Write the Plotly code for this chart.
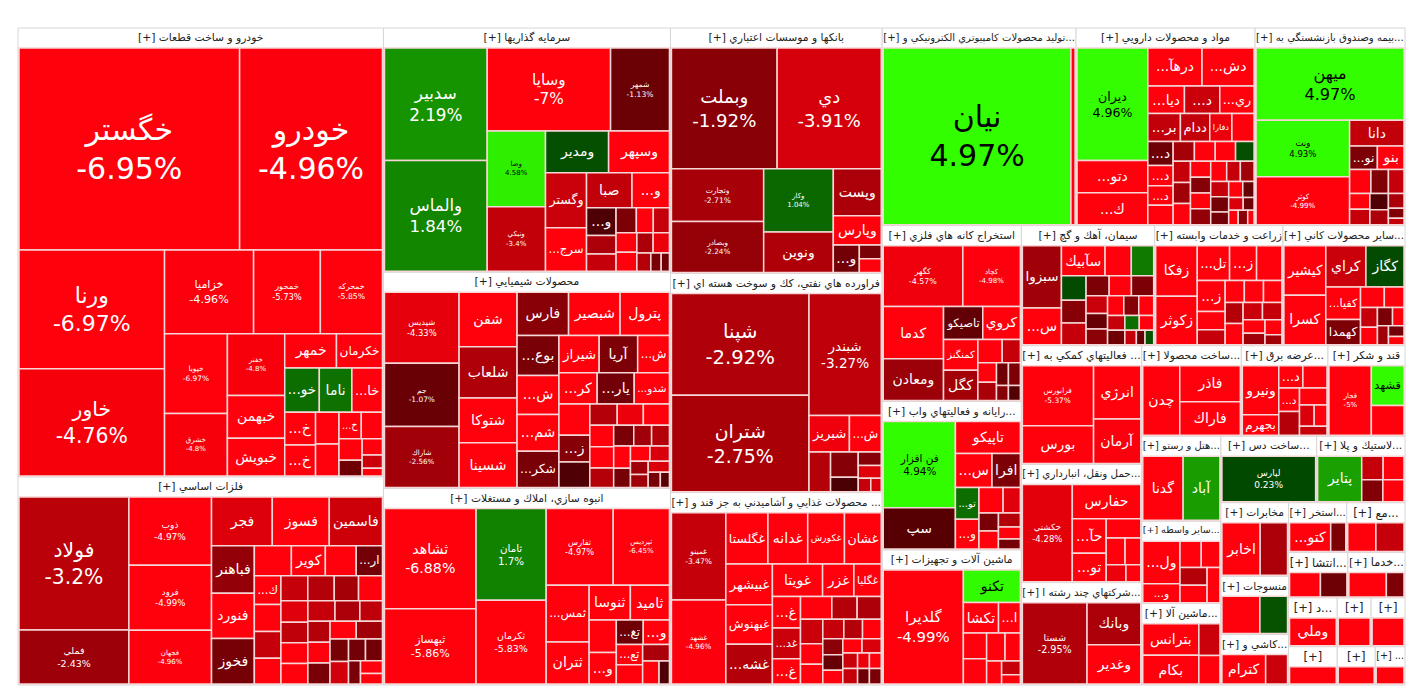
import math
import plotly.graph_objects as go

FONT = "Tahoma, 'DejaVu Sans', sans-serif"

# sector names as they appear in the header bars (truncated where the map truncates them)
SECTORS = [
    "خودرو و ساخت قطعات", "فلزات اساسي", "سرمايه گذاريها", "محصولات شيميايي",
    "انبوه سازي، املاك و مستغلات", "بانكها و موسسات اعتباري",
    "فراورده هاي نفتي، كك و سوخت هسته اي", "محصولات غذايي و آشاميدني به جز قند و ...",
    "توليد محصولات كامپيوتري الكترونيكي و...", "مواد و محصولات دارويي",
    "بيمه وصندوق بازنشستگي به...", "استخراج كانه هاي فلزي", "سيمان، آهك و گچ",
    "زراعت و خدمات وابسته", "ساير محصولات كاني...", "رايانه و فعاليتهاي واب...",
    "ماشين آلات و تجهيزات", "فعاليتهاي كمكي به ...", "ساخت محصولا...", "عرضه برق...",
    "قند و شكر", "حمل ونقل، انبارداري...", "شركتهاي چند رشته ا...", "ساخت دس...",
    "ساير واسطه...", "لاستيك و پلا...", "ماشين آلا...", "هتل و رستو...", "مخابرات",
    "منسوجات", "كاشي و...", "استخر...", "مع...", "خدما...", "انتشا...", "د...",
    "", "", "", "...", "",
]

# symbols per sector (tiles without a visible label are left out at the end)
SYMBOLS = [
    ["خگستر", "خودرو", "ورنا", "خاور", "خزامیا", "خمحور", "خمحرکه", "خپویا", "خشرق", "خفنر",
     "خبهمن", "خبويش", "خمهر", "خكرمان", "...خو", "ناما", "...خا", "...خ", "...خ", "", "", "...خ"],
    ["فولاد", "فملي", "ذوب", "فرود", "فجهان", "فجر", "فسوز", "فاسمين", "فباهنر", "فنورد",
     "فخوز", "", "كوير", "", "...ار", "...ك"],
    ["سدبير", "والماس", "وسايا", "شمهر", "وصا", "ونيكي", "ومدير", "وسپهر", "وگستر", "...سرج",
     "صبا", "...و", "...و"],
    ["شپديس", "جم", "شاراك", "شفن", "شلعاب", "شتوكا", "شسينا", "فارس", "شبصير", "پترول",
     "...بوع", "...ش", "...شم", "شيراز", "...شكر", "آريا", "...ش", "...كر", "...يار", "...شدو",
     "", "...ز"],
    ["ثشاهد", "ثبهساز", "ثامان", "ثكرمان", "ثفارس", "ثپرديس", "...ثمس", "ثتران", "ثنوسا", "ثاميد",
     "", "...و", "...تغ", "...و", "...تع"],
    ["وبملت", "دي", "وتجارت", "وبصادر", "وكار", "ونوين", "وپست", "وپارس", "...و"],
    ["شپنا", "شتران", "شبندر", "شبريز", "...ش"],
    ["غمينو", "غشهد", "غگلستا", "غدانه", "غكورش", "غشان", "غبيشهر", "غبهنوش", "...غشه", "غويتا",
     "غزر", "غگليا", "...غ", "...غد", "...غ"],
    ["نيان"],
    ["ديران", "...دتو", "...ك", "...درهآ", "...دش", "...ديا", "...د", "...ري", "...بر", "ددام",
     "دفارا", "", "...د", "...د", "...د"],
    ["ميهن", "ونت", "كوثر", "دانا", "...نو", "بنو"],
    ["كگهر", "كچاد", "كدما", "ومعادن", "تاصيكو", "كروي", "كمنگنز", "كگل"],
    ["سبزوا", "...س", "سآبيك"],
    ["زفكا", "زكوثر", "...تل", "...ز", "...ز"],
    ["كيشير", "كسرا", "كراي", "كگاز", "...كفيا", "كهمدا"],
    ["فن افزار", "سپ", "تاپيكو", "...س", "افرا", "...تو", "...و"],
    ["گلديرا", "تكنو", "تكشا", "", "...ا"],
    ["فرابورس", "بورس", "انرژي", "آرمان"],
    ["چدن", "فاذر", "فاراك"],
    ["ونيرو", "بجهرم", "...د", "", "...د"],
    ["قجار", "قشهد"],
    ["حكشتي", "حفارس", "...حآ", "...تو"],
    ["شستا", "وبانك", "وغدير"],
    ["لپارس"],
    ["...ول", "...و"],
    ["پتاير"],
    ["بترانس", "بكام"],
    ["گدنا", "آباد"],
    ["اخابر"],
    [],
    ["كترام"],
    ["...كتو"],
    [], [], [],
    ["وملي"],
    [], [], [], [], [],
]

# relative size of each tile (market value, arbitrary units)
VALUES = [
    [454, 294, 176, 159, 76, 57, 53, 51, 40, 36, 25, 22, 18, 16, 15.6, 14.7, 13.8, 10.3, 9.7, 7.6,
     7.6, 6.0, 5.7, 5.1, 3.7, 3.4, 2.7, 1.6],
    [158, 64, 61, 58, 48, 32, 30, 28, 22, 21, 21, 12, 11, 10, 8.5, 8.3, 7.7, 7.4, 7.7, 7.2,
     6.6, 6.0, 7.3, 6.0, 6.0, 4.5, 6.2, 5.0, 4.0, 4.0, 3.0, 5.0, 3.0, 2.5, 6.5, 6.0, 5.5, 5.0,
     5.0, 4.5, 5.0, 5.0],
    [123, 121, 109, 52, 47, 40, 28, 27, 24, 19, 17, 14, 8.7, 5.4, 5.4, 5.8, 4.3, 4.3, 4.5, 3.5,
     3.5, 4.2, 2.7, 2.0, 1.6],
    [57, 51, 49, 34, 32, 28, 28, 24, 24, 23, 18, 17.6, 16.6, 16.2, 16.4, 15.5, 12.8, 12.8, 12.4,
     11.8, 10.4, 8.9, 8.5, 6.3, 6.0, 5.5, 5.5, 4.5, 4.0, 4.0, 3.2, 3.2, 2.5, 2.5, 2.0, 1.5,
     6.0, 5.0, 4.0, 3.5, 2.5],
    [100, 75, 70, 64, 56, 47, 26.5, 19.7, 15.6, 14.8, 9.6, 9.3, 7.2, 7.0, 5.8, 5.5, 4.8, 4.1, 2.6],
    [136, 134, 52, 50, 47, 30, 24, 15, 7.6, 3.2, 3.2],
    [151, 143, 95, 16, 12.6, 9.2, 7.5, 4.3, 3.3, 3.2, 1.8, 1.5],
    [52, 50, 23.7, 22.4, 20.7, 20.7, 20.7, 20.2, 20.2, 17.8, 11.1, 9.7, 9.7, 9.4, 7.8, 7.8, 6.3,
     6.0, 6.0, 4.8, 4.0, 3.4, 2.5, 2.0, 2.0, 3.0, 2.5, 2.0, 5.0, 4.5, 4.0, 3.5, 3.0, 3.0, 2.0],
    [362, 8],
    [87, 25, 24.6, 22.5, 21.6, 11, 10.6, 10.3, 10, 9, 6.8, 6.8, 6.6, 5.6, 5.4, 5.4, 4.6, 4.4,
     4.0, 4.5, 4.0, 4.0, 3.5, 3.5, 3.5, 3.0, 3.0, 2.5, 2.5, 2.0, 2.0, 1.5, 1.5, 1.5, 1.0,
     4.0, 3.5, 3.5, 3.0, 3.0],
    [117, 58, 49, 15.3, 7.2, 6.9, 5.6, 4.6, 3.5, 4.1, 3.4, 3.3, 3.0, 2.5, 1.7, 1.1],
    [54, 39, 35, 28, 14.4, 13.8, 11.7, 11.6, 6.3, 4.7, 3.0, 3.8, 2.0, 2.0, 4.0, 3.0],
    [29, 17, 15.6, 9.4, 8.0, 7.2, 6.4, 6.6, 5.5, 5.3, 5.3, 4.5, 4.0, 4.0, 3.8, 3.5, 3.5, 3.0,
     3.0, 2.5, 2.5, 2.0, 1.5, 1.5],
    [25, 24, 13.4, 11.2, 10.3, 10.5, 4.5, 4.8, 6.0, 5.0, 5.0, 4.5, 4.0, 3.5, 3.0,
     5.0, 4.0, 3.0, 2.0],
    [24.7, 24.7, 19.7, 18.7, 13.5, 10.4, 5.8, 4.8, 4.0, 3.3, 2.5, 2.0, 1.5, 3.5, 2.5],
    [71, 34, 23.8, 14.2, 11, 8.5, 8, 7, 5, 4, 3, 4.0, 3.5, 2.5],
    [106, 21.5, 12.4, 7, 7.7, 6.8, 6, 5, 4, 3, 2],
    [51, 32, 30, 25],
    [33, 28, 26],
    [23, 9.6, 6.9, 6.9, 6.3, 6.3, 3.5, 3.2, 6, 4],
    [38, 16.8, 12.5],
    [58, 28, 14, 11.5, 8, 6, 5, 4, 3],
    [65, 28, 26],
    [61.5],
    [21, 9.4, 7.4, 6.3, 6, 6.4, 6.5],
    [29, 7.1, 7.3, 6.7, 6.7],
    [23.6, 21.6, 9, 8],
    [34, 31],
    [28, 20],
    [22, 16],
    [22, 11],
    [20.5, 7.5],
    [14, 14],
    [17, 8],
    [14, 12],
    [23],
    [16], [16], [18], [11], [14],
]

# daily change in percent
CHANGES = [
    [-6.95, -4.96, -6.97, -4.76, -4.96, -5.73, -5.85, -6.97, -4.8, -4.8, -5.1, -5.0, -5.2, -5.0,
     1.2, 1.3, -5.0, -5.0, -5.0, -5.0, -5.0, -5.0, -5.0, -5.0, -1.2, -5.0, -3.6, -5.0],
    [-3.2, -2.43, -4.97, -4.99, -4.96, -4.1, -5.0, -3.7, -2.2, -5.0, -1.4, -5.0, -5.0, -5.0,
     -1.3, -5.0, -5.0, -5.0, -3.5, -3.0, -2.6, -3.3, -3.5, -5.0, -5.0, -1.4, -4.2, -3.3, -1.3,
     -1.3, -1.5, -3.0, -5.0, -5.0, -5.0, -3.5, -2.8, -5.0, -1.5, -3.8, -5.0, -2.5],
    [2.19, 1.84, -7.0, -1.13, 4.58, -3.4, 0.4, -5.0, -3.6, -5.0, -3.4, -5.0, -0.4, -3.5, -1.6,
     -2.8, -3.5, -5.0, -5.0, -2.8, -4.5, -5.0, -3.0, -1.5, -1.2],
    [-4.33, -1.07, -2.56, -5.0, -2.9, -5.0, -5.0, -1.9, -5.0, -5.0, -1.5, -5.0, -5.0, -5.0, -1.5,
     -1.6, -5.0, -5.0, -1.3, -5.0, -5.0, -1.8, -0.4, -3.0, -4.5, -5.0, -5.0, -1.5, -2.5, -3.0,
     -5.0, -4.0, -2.5, -2.5, -1.5, -0.6, -5.0, -3.0, -5.0, -1.4, -4.0],
    [-6.88, -5.86, 1.7, -5.83, -4.97, -6.45, -5.0, -5.0, -5.0, -5.0, -5.0, -5.0, -1.2, -5.0,
     -5.0, -5.0, -2.8, -5.0, -0.4],
    [-1.92, -3.91, -2.71, -2.24, 1.04, -2.9, -2.8, -5.0, -1.3, -1.5, -5.0],
    [-2.92, -2.75, -3.27, -4.6, -5.0, -3.0, -1.8, -0.3, -1.8, -4.2, -3.5, -4.0],
    [-3.47, -4.96, -5.0, -5.0, -5.0, -5.0, -5.0, -5.0, -3.0, -5.0, -5.0, -5.0, -5.0, -3.6, -5.0,
     -5.0, -3.0, -2.8, -3.6, -5.0, -3.0, -1.0, -3.6, -4.5, -5.0, -5.0, -3.5, -1.2,
     -5.0, -3.5, -5.0, -2.0, -5.0, -4.0, -1.5],
    [4.97, -5.0],
    [4.96, -5.0, -5.0, -5.0, -5.0, -5.0, -3.6, -5.0, -3.4, -3.4, -4.5, -5.0, -1.2, -5.0, -5.0,
     -5.0, -2.6, -5.0, 0.4, -5.0, -3.5, -2.5, -5.0, -1.8, -5.0, -3.5, -2.5, -1.3, -5.0, -1.0,
     -4.0, -1.2, -5.0, -2.0, -5.0, -5.0, -2.2, -5.0, -3.5, -1.4],
    [4.97, 4.93, -4.99, -3.4, -1.6, -5.0, -5.0, -1.7, -5.0, -3.5, -3.5, -0.4, -2.8, -2.8, -1.7,
     -3.5],
    [-4.57, -4.98, -5.0, -2.4, -0.9, -5.0, -5.0, -2.6, -5.0, -3.5, -1.2, -2.8, -1.8, -0.5,
     -5.0, -1.6],
    [-2.5, -5.0, -5.0, -5.0, 1.5, 0.3, -3.5, -1.8, -1.6, -5.0, -1.6, -3.6, -1.0, -2.0, -5.0,
     -1.8, -5.0, -3.5, -1.2, 1.2, -5.0, -3.5, -1.0, 0.5],
    [-5.0, -5.0, -5.0, -5.0, -5.0, -5.0, -3.0, -5.0, -5.0, -3.5, -5.0, -5.0, -3.6, -5.0, -2.5,
     -5.0, -3.5, -5.0, -2.5],
    [-5.0, -5.0, -3.6, 0.3, -5.0, -1.6, -5.0, -5.0, -3.5, -1.5, -5.0, -1.3, -5.0, -5.0, -2.5],
    [4.94, -0.6, -5.0, -5.0, -1.6, 1.2, -5.0, -5.0, -4.2, -1.5, -5.0, -5.0, -3.0, -1.4],
    [-4.99, 4.9, -5.0, -5.0, -5.0, -5.0, -5.0, -5.0, -5.0, -3.5, -5.0],
    [-5.37, -5.0, -5.0, -4.9],
    [-5.0, -5.0, -5.0],
    [-5.0, -5.0, -5.0, -5.0, -5.0, -3.0, -5.0, -3.5, -5.0, -4.0],
    [-5.0, 4.9, -5.0],
    [-4.28, -5.0, -5.0, -5.0, -5.0, -5.0, -5.0, -4.5, -5.0],
    [-2.95, -2.8, -5.0],
    [0.23],
    [-5.0, -5.0, -5.0, -5.0, -5.0, -3.0, -5.0],
    [2.5, -5.0, -3.5, -1.7, -5.0],
    [-5.0, -5.0, -3.6, -5.0],
    [-5.0, 2.4],
    [-5.0, -2.8],
    [-5.0, 0.5],
    [-5.0, -3.6],
    [-5.0, -1.6],
    [-5.0, -3.5],
    [-5.0, -1.6],
    [-5.0, -1.2],
    [-5.0],
    [-5.0], [-5.0], [-5.0], [-5.0], [-5.0],
]


def tile_color(c):
    m = min(abs(c) / 5.0, 1.0)
    if c >= 0:
        g = 64 + m * 191
        return "rgb(%d,%d,0)" % (round(51 * m), round(g))
    r = 64 + m * 191
    return "rgb(%d,0,%d)" % (round(r), round(r * 0.05))


ids, labels, parents, values, colors, texts = [], [], [], [], [], []
font_colors, font_sizes, line_colors, line_widths = [], [], [], []

for i, name in enumerate(SECTORS):
    header = ("[+] " + name).strip()
    ids.append("s%d" % i)
    labels.append(header)
    parents.append("")
    values.append(0)
    colors.append("#ffffff")
    texts.append(header)
    font_colors.append("#222222")
    font_sizes.append(11.5)
    line_colors.append("#d6d6d6")
    line_widths.append(1)

for i in range(len(SECTORS)):
    syms, vals, chs = SYMBOLS[i], VALUES[i], CHANGES[i]
    for j, (v, c) in enumerate(zip(vals, chs)):
        sym = syms[j] if j < len(syms) else ""
        ids.append("s%d-%d" % (i, j))
        labels.append(sym or "s%d-%d" % (i, j))
        parents.append("s%d" % i)
        values.append(v)
        colors.append(tile_color(c))
        if sym and v >= 36:
            # name + change: font grows with the tile, small tiles get tiny text
            texts.append("%s<br>%s%%" % (sym, format(c, "g")))
            size = 7 + 0.25 * (math.sqrt(v * 90) - 66)
            font_sizes.append(max(7, min(30, size)))
        else:
            texts.append(sym)
            font_sizes.append(14)
        font_colors.append("#000000" if c > 3 else "#ffffff")
        line_colors.append("#f6d6d6")
        line_widths.append(1.5)

fig = go.Figure(go.Treemap(
    ids=ids,
    labels=labels,
    parents=parents,
    values=values,
    text=texts,
    textinfo="text",
    textposition="middle center",
    sort=True,
    marker=dict(
        colors=colors,
        line=dict(color=line_colors, width=line_widths),
        pad=dict(t=20, l=1, r=1, b=1),
    ),
    textfont=dict(family=FONT, size=font_sizes, color=font_colors),
    tiling=dict(packing="squarify", squarifyratio=1, pad=0),
    pathbar=dict(visible=False),
    hoverinfo="label+text",
))

fig.update_layout(
    margin=dict(l=9, r=10, t=0, b=4),
    paper_bgcolor="#ffffff",
    font=dict(family=FONT),
)

fig.write_html("out.html")
